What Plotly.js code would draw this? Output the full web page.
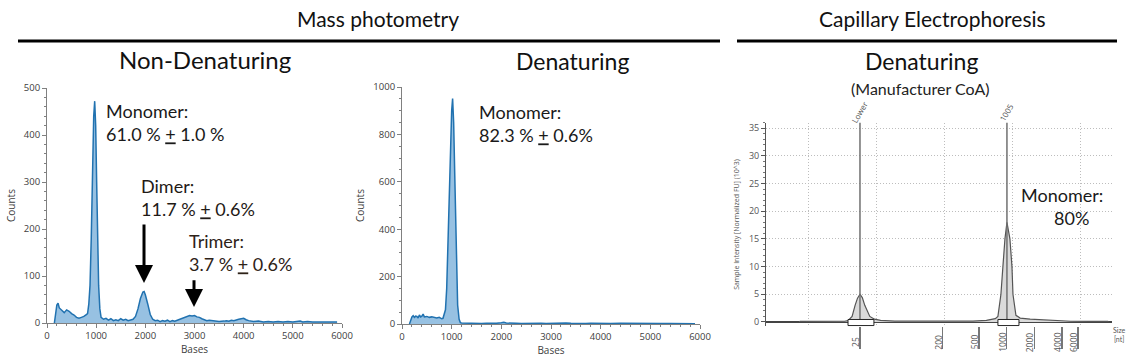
<!DOCTYPE html>
<html>
<head>
<meta charset="utf-8">
<script src="https://cdn.plot.ly/plotly-3.0.1.min.js"></script>
<style>html,body{margin:0;padding:0;background:#fff;}#chart{width:1129px;height:361px;}</style>
</head>
<body>
<div id="chart"></div>
<script>
// ---------- DATA ----------
// Mass photometry, non-denaturing (Bases vs Counts)
const ndBases = [150,175,200,225,250,300,350,400,450,500,550,600,650,700,750,800,825,850,875,900,925,950,970,990,1010,1030,1050,1075,1100,1150,1200,1250,1300,1350,1400,1450,1500,1550,1600,1650,1700,1750,1800,1850,1900,1950,1975,2000,2050,2100,2150,2200,2250,2300,2350,2400,2450,2500,2550,2600,2650,2700,2750,2800,2850,2900,2950,3000,3050,3100,3150,3200,3250,3300,3400,3500,3600,3650,3700,3750,3800,3850,3900,3950,4000,4050,4100,4200,4300,4400,4500,4600,4700,4800,4900,5000,5100,5150,5200,5300,5400,5500,5600,5700,5800,5900];
const ndCounts = [0,22,38,42,32,27,22,28,25,20,17,12,10,12,14,18,20,40,80,180,330,440,472,420,300,170,80,30,12,8,10,6,9,5,7,5,9,6,8,5,6,8,14,30,52,66,67,60,40,18,8,5,6,3,5,4,6,3,5,4,6,8,10,12,14,16,15,16,13,12,9,7,5,6,4,3,4,5,4,6,5,7,8,9,10,7,5,3,4,2,3,2,3,2,3,2,3,4,2,3,2,2,1,2,1,2];

// Mass photometry, denaturing
const dBases = [150,175,200,225,250,275,300,325,350,375,400,425,450,500,550,600,650,700,750,800,825,850,875,900,925,950,975,1000,1019,1040,1060,1080,1100,1120,1150,1175,1200,1300,1400,1500,1600,1700,1800,1900,2000,2050,2100,2200,2300,2400,2500,2600,2700,2800,2900,3000,3100,3200,3300,3400,3500,3600,3700,3800,3900,4000,4200,4400,4600,4800,5000,5200,5400,5600,5800,5900];
const dCounts = [0,20,30,35,28,33,32,25,38,30,33,42,30,32,28,30,26,25,28,22,24,40,60,150,350,600,800,900,951,850,650,400,200,80,20,6,4,3,2,4,2,3,2,3,5,7,4,2,3,2,3,2,2,3,2,3,4,6,4,3,2,3,2,3,2,3,2,3,2,2,3,2,2,1,2,1];

// Capillary electrophoresis (size in nt vs intensity, FU x10^3)
const ceSize = [5.5,7,9,11,13,15,17,18.5,20.5,22.1,23.5,25,26.5,28.2,32,36,42,60,100,150,200,300,427,600,750,801,864,908,956,1005,1083,1140,1169,1260,1400,1800,2500,3800,5000,8000,12800];
const ceIntensity = [0.12,0.1,0.13,0.11,0.12,0.1,0.13,0.25,1.0,3.0,4.3,5.0,4.4,3.0,1.0,0.5,0.3,0.16,0.13,0.12,0.12,0.13,0.16,0.3,0.6,1.0,5.0,10,15,18,15,10,5,1.2,0.7,0.5,0.35,0.2,0.13,0.1,0.1];
const ladderSizes = [25,200,500,1000,2000,4000,6000];
const peakSizes = [25,1005];
const peakLabels = ['Lower','1005'];
const peakStart = [18.5,801];
const peakEnd = [35.5,1360];

// Annotation texts
const ndLabels = ['Monomer:<br>61.0 % <u>+</u> 1.0 %','Dimer:<br>11.7 % <u>+</u> 0.6%','Trimer:<br>3.7 % <u>+</u> 0.6%'];
const ndArrowBases = [1973,2990];
const ndArrowTips = [85,34];
const ndArrowTails = [213,94];

// ---------- LAYOUT HELPERS ----------
const W=1129,H=361;
const fx=px=>px/W, fy=py=>1-py/H;
const TXT='Lato, "Open Sans", sans-serif';
const TICKF={family:'"Open Sans", "Noto Sans", sans-serif',size:9.5,color:'#404040'};

const blueLine='#2172b0', blueFill='rgba(95,160,210,0.65)';

const traces=[
 {x:ndBases,y:ndCounts,type:'scatter',mode:'lines',fill:'tozeroy',fillcolor:blueFill,line:{color:blueLine,width:1.5},xaxis:'x',yaxis:'y',hoverinfo:'skip'},
 {x:dBases,y:dCounts,type:'scatter',mode:'lines',fill:'tozeroy',fillcolor:blueFill,line:{color:blueLine,width:1.5},xaxis:'x2',yaxis:'y2',hoverinfo:'skip'},
 {x:ceSize,y:ceIntensity,type:'scatter',mode:'lines',fill:'tozeroy',fillcolor:'#dadada',line:{color:'#555',width:1.2},xaxis:'x3',yaxis:'y3',hoverinfo:'skip'},
 {x:[],y:[],type:'scatter',xaxis:'x4',yaxis:'y3',showlegend:false}
];

function mpX(d){return {domain:d,range:[0,6000],dtick:1000,showline:true,linecolor:'#808080',linewidth:1,ticks:'outside',ticklen:4,tickcolor:'#808080',
  minor:{dtick:200,ticks:'outside',ticklen:2,tickcolor:'#808080'},showgrid:false,zeroline:false,tickfont:TICKF,
  title:{text:'Bases',font:{family:TICKF.family,size:10,color:'#404040'},standoff:4}};}
function mpY(d,r,dt,mdt,anchor){return {domain:d,range:r,dtick:dt,showline:true,linecolor:'#808080',linewidth:1,ticks:'outside',ticklen:4,tickcolor:'#808080',
  minor:{dtick:mdt,ticks:'outside',ticklen:2,tickcolor:'#808080'},showgrid:false,zeroline:false,tickfont:TICKF,anchor:anchor,
  title:{text:'Counts',font:{family:TICKF.family,size:10,color:'#404040'},standoff:6}};}

const layout={
 width:W,height:H,margin:{l:0,r:0,t:0,b:0},paper_bgcolor:'#fff',plot_bgcolor:'rgba(0,0,0,0)',showlegend:false,
 xaxis:Object.assign(mpX([fx(47),fx(342)]),{anchor:'y'}),
 yaxis:mpY([fy(323),fy(88)],[0,500],100,20,'x'),
 xaxis2:Object.assign(mpX([fx(402),fx(700)]),{anchor:'y2'}),
 yaxis2:mpY([fy(324),fy(87)],[0,1000],200,50,'x2'),
 xaxis3:{domain:[fx(766),fx(1112)],anchor:'y3',type:'log',range:[0.372,4.149],tickvals:ladderSizes,showticklabels:false,
   ticks:'outside',ticklen:22,tickwidth:1.5,tickcolor:'#777',
   showline:false,showgrid:false,zeroline:false},
 xaxis4:{overlaying:'x3',anchor:'y3',range:[-0.63,4.46],dtick:1,showgrid:true,griddash:'1px,2px',gridcolor:'#bdbdbd',gridwidth:1,
   showticklabels:false,ticks:'',showline:false,zeroline:false},
 yaxis3:{domain:[fy(326.4),fy(122.6)],anchor:'x3',range:[-0.8,36],dtick:5,tick0:0,showline:true,linecolor:'#555',linewidth:1,
   ticks:'outside',ticklen:4,tickcolor:'#555',minor:{dtick:1,ticks:'outside',ticklen:2,tickcolor:'#777'},
   showgrid:true,griddash:'1px,2px',gridcolor:'#bdbdbd',zeroline:true,zerolinecolor:'#444',zerolinewidth:1.2,
   tickfont:{family:TICKF.family,size:9,color:'#555'},
   title:{text:'Sample Intensity [Normalized FU] (10^3)',font:{family:TICKF.family,size:7,color:'#555'},standoff:8}},
 shapes:[
  {type:'line',xref:'paper',yref:'paper',x0:fx(18),x1:fx(720),y0:fy(41),y1:fy(41),line:{color:'#000',width:3}},
  {type:'line',xref:'paper',yref:'paper',x0:fx(737),x1:fx(1117),y0:fy(41),y1:fy(41),line:{color:'#000',width:3}}
 ],
 annotations:[]
};

// peak marker lines and brackets
peakSizes.forEach((p,i)=>{
 layout.shapes.push({type:'line',xref:'x3',yref:'y3',x0:p,x1:p,y0:0,y1:36,line:{color:'#707070',width:1.5},layer:'above'});
 layout.shapes.push({type:'rect',xref:'x3',yref:'y3',x0:peakStart[i],x1:peakEnd[i],y0:-0.65,y1:0.45,fillcolor:'#fff',line:{color:'#222',width:1},layer:'above'});
 layout.annotations.push({xref:'x3',yref:'paper',x:Math.log10(p),y:fy(112),text:peakLabels[i],textangle:-60,showarrow:false,
   font:{family:TICKF.family,size:8,color:'#555'},xanchor:'center',yanchor:'middle'});
});
// ladder tick labels (rotated, left of the ladder bars)
ladderSizes.forEach(s=>{
 layout.annotations.push({xref:'x3',yref:'paper',x:Math.log10(s),y:fy(342),text:String(s),textangle:-90,showarrow:false,xshift:-5,
   font:{family:TICKF.family,size:8.5,color:'#555'},xanchor:'center',yanchor:'middle'});
});

const A=layout.annotations;
function txt(t,x,y,size,xa,col){A.push({xref:'paper',yref:'paper',x:fx(x),y:fy(y),text:t,showarrow:false,xanchor:xa||'center',yanchor:'middle',align:xa||'center',
  font:{family:TXT,size:size,color:col||'#111'},borderpad:0});}
txt('Mass photometry',378,19,21);
txt('Capillary Electrophoresis',932,19,21);
txt('Non-Denaturing',205,59,24);
txt('Denaturing',572,61,23);
txt('Denaturing',921,61,23);
txt('(Manufacturer CoA)',920,89,16,'center','#222');
txt(ndLabels[0],105,122,18,'left','#1a1a1a');
txt(ndLabels[1],140,197,18,'left','#1f1a16');
txt(ndLabels[2],188,252,18,'left','#2e2218');
txt('Monomer:<br>82.3 % <u>+</u> 0.6%',478,123,18,'left','#1a1a1a');
txt('Monomer:',1020,195,18,'left','#1a1a1a');
txt('80%',1071,218,18,'center','#1a1a1a');
txt('Size<br>[nt]',1119,334,7,'center','#555');

ndArrowBases.forEach((b,i)=>{
 A.push({xref:'x',yref:'y',axref:'x',ayref:'y',x:b,y:ndArrowTips[i],ax:b,ay:ndArrowTails[i],showarrow:true,arrowhead:2,arrowsize:1.2,arrowwidth:3,arrowcolor:'#000',text:'',standoff:0,startstandoff:0});
});

Plotly.newPlot('chart',traces,layout,{staticPlot:true,displayModeBar:false});
</script>
</body>
</html>
